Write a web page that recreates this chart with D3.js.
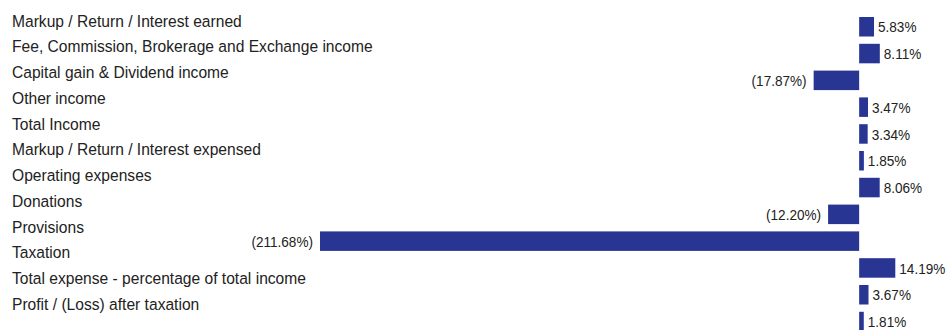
<!DOCTYPE html>
<html>
<head>
<meta charset="utf-8">
<script src="https://cdn.jsdelivr.net/npm/d3@7"></script>
<style>
  html, body { margin: 0; padding: 0; background: #fff; }
  svg { display: block; }
  text { font-family: "Liberation Sans", Arial, sans-serif; fill: #222; }
</style>
</head>
<body>
<svg id="chart" width="948" height="330"></svg>
<script>
const categories = [
  "Markup / Return / Interest earned",
  "Fee, Commission, Brokerage and Exchange income",
  "Capital gain & Dividend income",
  "Other income",
  "Total Income",
  "Markup / Return / Interest expensed",
  "Operating expenses",
  "Donations",
  "Provisions",
  "Taxation",
  "Total expense - percentage of total income",
  "Profit / (Loss) after taxation"
];
const values = [5.83, 8.11, -17.87, 3.47, 3.34, 1.85, 8.06, -12.20, -211.68, 14.19, 3.67, 1.81];
const valueLabels = ["5.83%", "8.11%", "(17.87%)", "3.47%", "3.34%", "1.85%", "8.06%", "(12.20%)", "(211.68%)", "14.19%", "3.67%", "1.81%"];

const svg = d3.select("#chart");
const idx = d3.range(categories.length);

// condensed look: measure and compress the regular face horizontally
function condenseFactor(sample, size, target) {
  const t = svg.append("text").style("font-size", size + "px").text(sample);
  const w = t.node().getComputedTextLength();
  t.remove();
  return target / w;
}
const labelSize = 16.5, valueSize = 15.5;
const sxLabel = condenseFactor(categories[0], labelSize, 230);
const sxValue = condenseFactor(valueLabels[0], valueSize, 38.5);

// label rows
const yLabel = d3.scalePoint().domain(idx).range([26.7, 309.9]);
svg.append("g").selectAll("text")
  .data(idx).join("text")
  .attr("transform", i => `translate(12,${yLabel(i)}) scale(${sxLabel},1)`)
  .style("font-size", labelSize + "px")
  .text(i => categories[i]);

// bars
const x = d3.scaleLinear().domain([-211.68, 14.19]).range([320, 895.3]);
const yBar = d3.scaleBand().domain(idx).range([17, 331.3]).paddingInner(0.272).paddingOuter(0);

svg.append("g").selectAll("rect")
  .data(idx).join("rect")
  .attr("x", i => Math.min(x(0), x(values[i])))
  .attr("y", i => yBar(i))
  .attr("width", i => Math.abs(x(values[i]) - x(0)))
  .attr("height", yBar.bandwidth())
  .attr("fill", "#283593");

svg.append("g").selectAll("text")
  .data(idx).join("text")
  .attr("transform", i => {
    const tx = values[i] >= 0 ? x(values[i]) + 4 : x(values[i]) - 7;
    const ty = yBar(i) + yBar.bandwidth() / 2;
    return `translate(${tx},${ty}) scale(${sxValue},1)`;
  })
  .attr("dy", "0.36em")
  .attr("text-anchor", i => values[i] >= 0 ? "start" : "end")
  .style("font-size", valueSize + "px")
  .text(i => valueLabels[i]);
</script>
</body>
</html>
